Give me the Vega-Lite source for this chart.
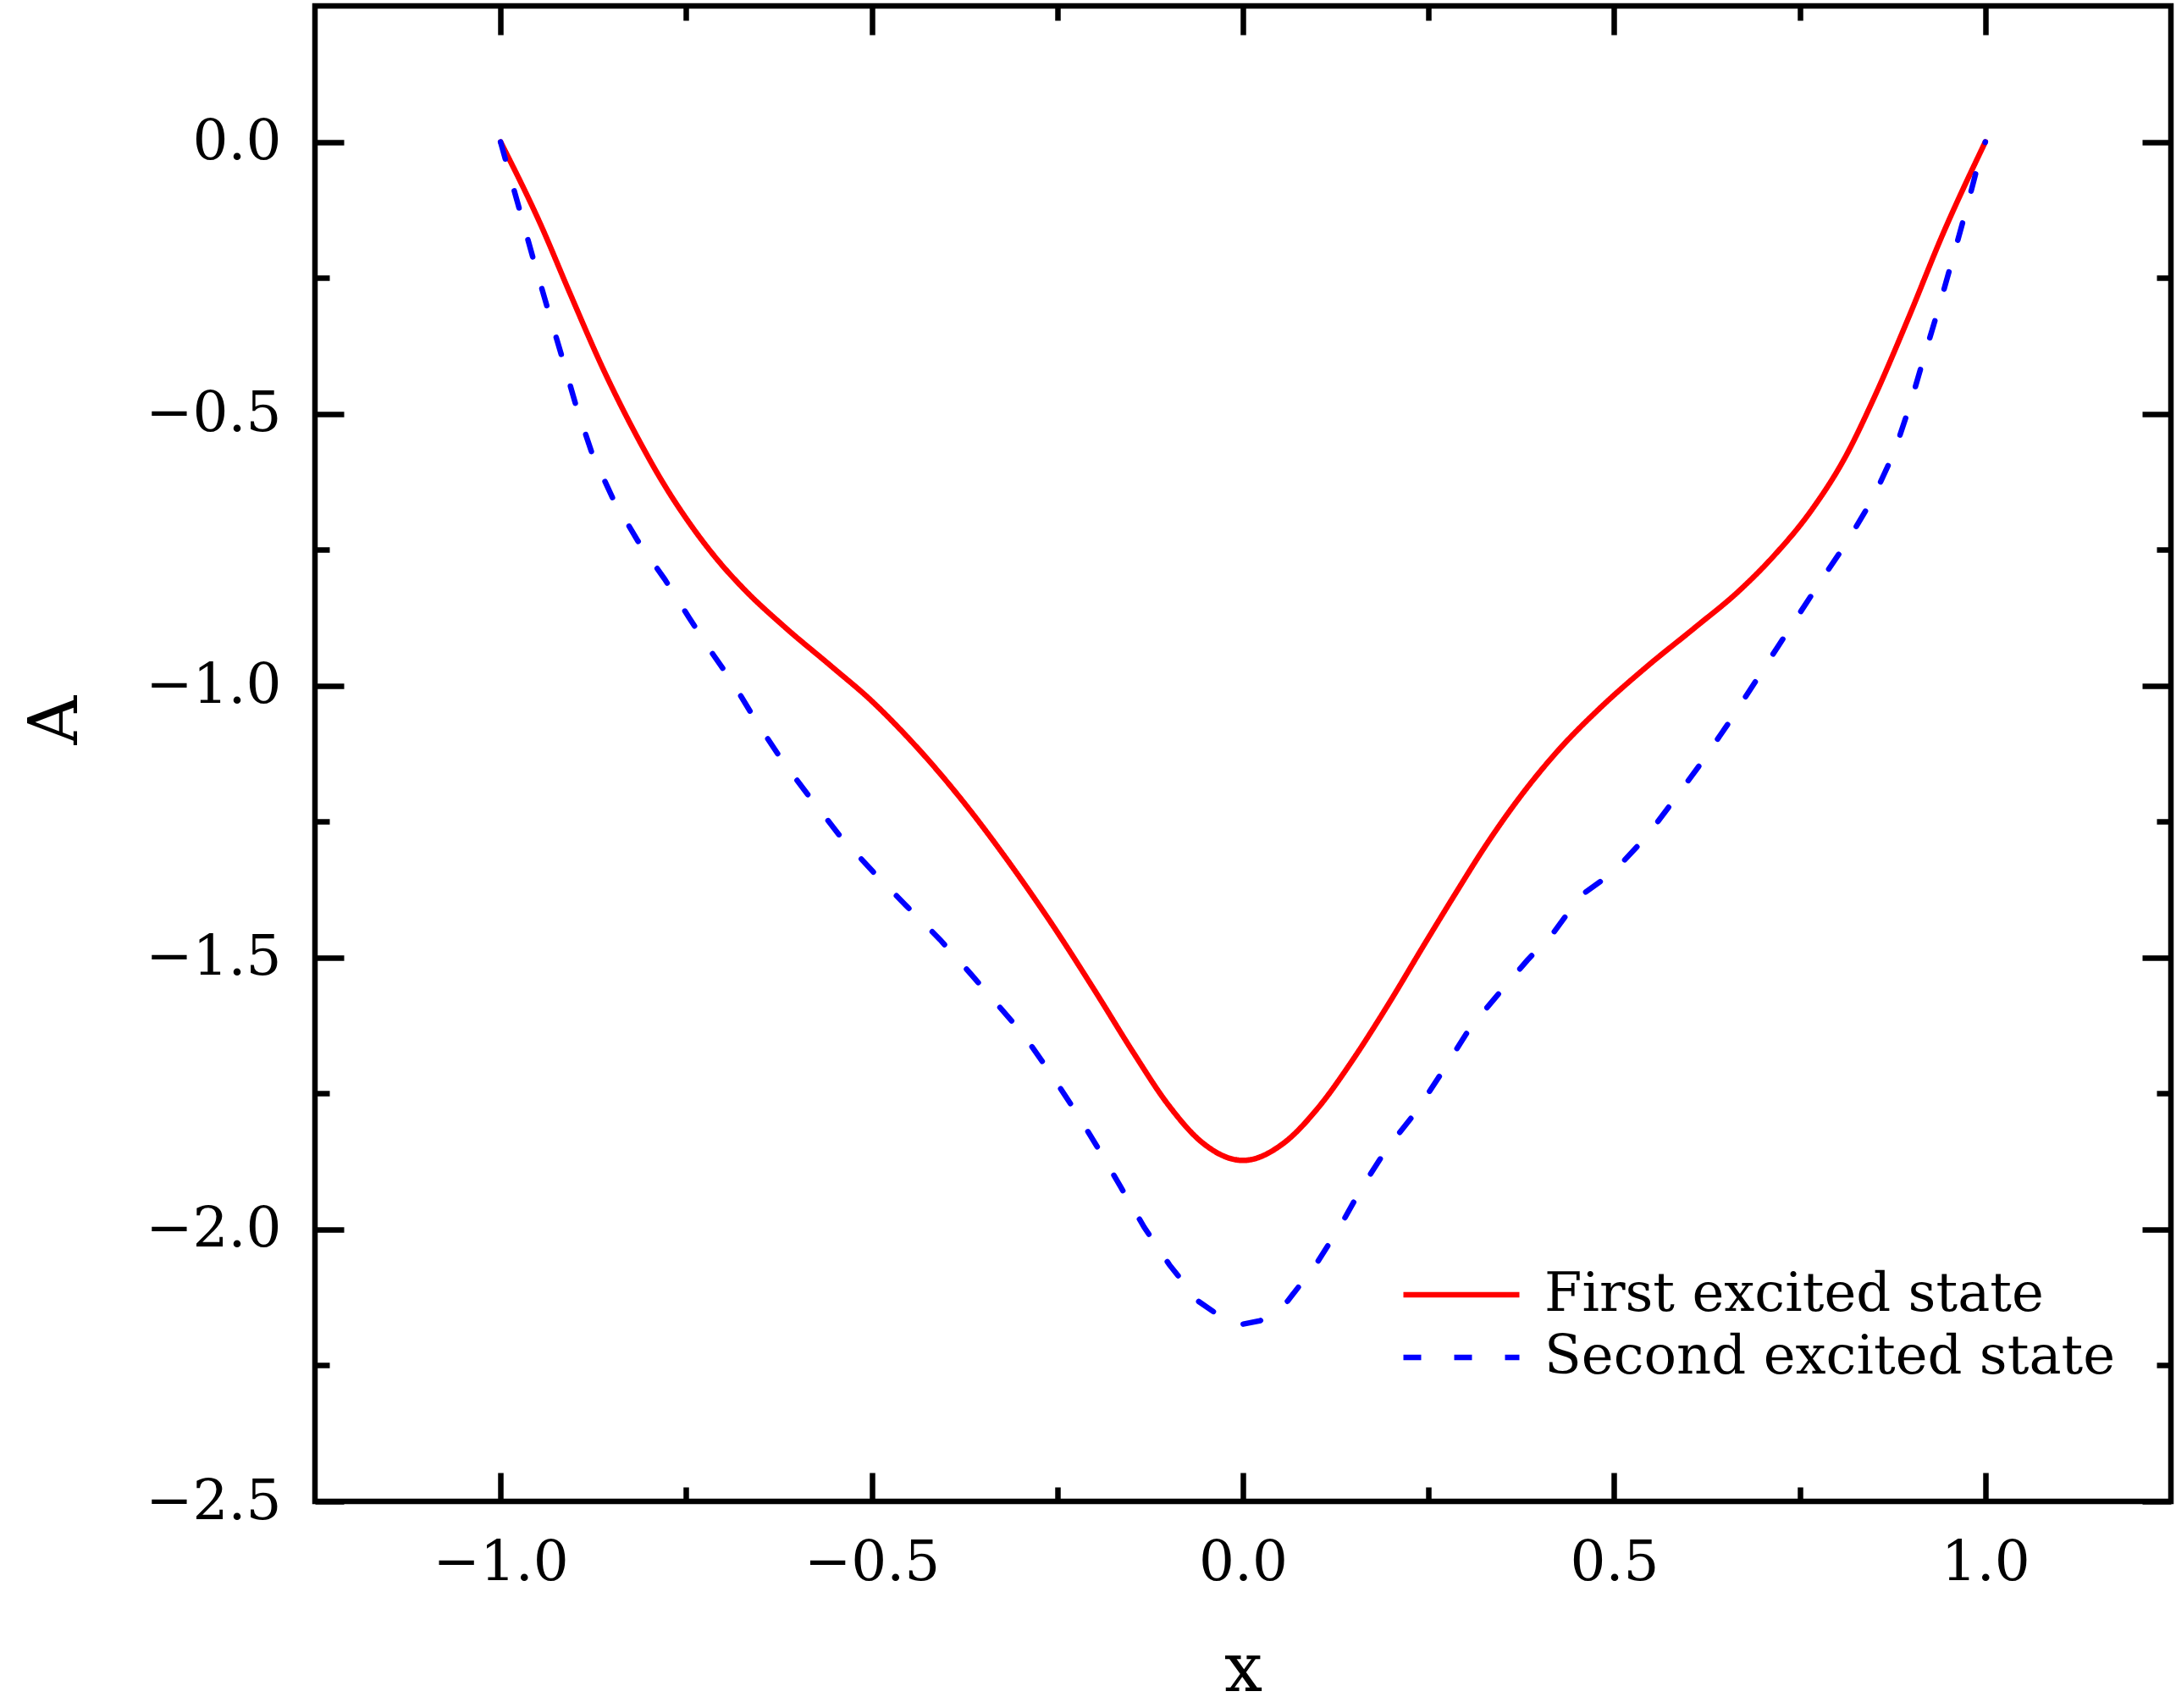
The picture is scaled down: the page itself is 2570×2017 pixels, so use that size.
{
  "$schema": "https://vega.github.io/schema/vega-lite/v6.json",
  "width": 2192,
  "height": 1766,
  "autosize": {"type": "none"},
  "padding": {"left": 372, "top": 7, "right": 6, "bottom": 244},
  "background": "white",
  "config": {
    "view": {"stroke": "black", "strokeWidth": 6.5},
    "axis": {
      "domain": false,
      "grid": false,
      "tickColor": "black",
      "tickWidth": 6.5,
      "labelFont": "DejaVu Serif",
      "labelFontSize": 66,
      "labelColor": "black",
      "labelFlush": false,
      "titleFont": "DejaVu Serif",
      "titleFontSize": 80,
      "titleFontWeight": "normal",
      "titleColor": "black"
    }
  },
  "data": {
    "values": [
      {"series": "First excited state", "x": -1.0, "A": 0.0},
      {"series": "First excited state", "x": -0.946, "A": -0.152},
      {"series": "First excited state", "x": -0.907, "A": -0.277},
      {"series": "First excited state", "x": -0.861, "A": -0.42},
      {"series": "First excited state", "x": -0.815, "A": -0.545},
      {"series": "First excited state", "x": -0.782, "A": -0.625},
      {"series": "First excited state", "x": -0.743, "A": -0.706},
      {"series": "First excited state", "x": -0.71, "A": -0.765},
      {"series": "First excited state", "x": -0.671, "A": -0.824},
      {"series": "First excited state", "x": -0.619, "A": -0.89},
      {"series": "First excited state", "x": -0.553, "A": -0.966},
      {"series": "First excited state", "x": -0.501, "A": -1.027},
      {"series": "First excited state", "x": -0.455, "A": -1.09},
      {"series": "First excited state", "x": -0.409, "A": -1.16},
      {"series": "First excited state", "x": -0.37, "A": -1.225},
      {"series": "First excited state", "x": -0.323, "A": -1.31},
      {"series": "First excited state", "x": -0.285, "A": -1.383},
      {"series": "First excited state", "x": -0.258, "A": -1.437},
      {"series": "First excited state", "x": -0.199, "A": -1.562},
      {"series": "First excited state", "x": -0.147, "A": -1.676},
      {"series": "First excited state", "x": -0.101, "A": -1.77},
      {"series": "First excited state", "x": -0.055, "A": -1.84},
      {"series": "First excited state", "x": 0.0, "A": -1.873},
      {"series": "First excited state", "x": 0.056, "A": -1.84},
      {"series": "First excited state", "x": 0.102, "A": -1.775},
      {"series": "First excited state", "x": 0.148, "A": -1.688},
      {"series": "First excited state", "x": 0.194, "A": -1.59},
      {"series": "First excited state", "x": 0.246, "A": -1.472},
      {"series": "First excited state", "x": 0.285, "A": -1.385},
      {"series": "First excited state", "x": 0.328, "A": -1.292},
      {"series": "First excited state", "x": 0.373, "A": -1.205},
      {"series": "First excited state", "x": 0.426, "A": -1.117},
      {"series": "First excited state", "x": 0.478, "A": -1.045},
      {"series": "First excited state", "x": 0.544, "A": -0.965},
      {"series": "First excited state", "x": 0.609, "A": -0.893},
      {"series": "First excited state", "x": 0.668, "A": -0.826},
      {"series": "First excited state", "x": 0.714, "A": -0.763},
      {"series": "First excited state", "x": 0.766, "A": -0.677},
      {"series": "First excited state", "x": 0.812, "A": -0.578},
      {"series": "First excited state", "x": 0.851, "A": -0.468},
      {"series": "First excited state", "x": 0.897, "A": -0.322},
      {"series": "First excited state", "x": 0.942, "A": -0.172},
      {"series": "First excited state", "x": 1.0, "A": 0.0},
      {"series": "Second excited state", "x": -1.0, "A": 0.0},
      {"series": "Second excited state", "x": -0.976, "A": -0.117},
      {"series": "Second excited state", "x": -0.957, "A": -0.21},
      {"series": "Second excited state", "x": -0.938, "A": -0.3},
      {"series": "Second excited state", "x": -0.918, "A": -0.392},
      {"series": "Second excited state", "x": -0.899, "A": -0.482},
      {"series": "Second excited state", "x": -0.877, "A": -0.572},
      {"series": "Second excited state", "x": -0.848, "A": -0.658},
      {"series": "Second excited state", "x": -0.815, "A": -0.734},
      {"series": "Second excited state", "x": -0.779, "A": -0.804},
      {"series": "Second excited state", "x": -0.746, "A": -0.875},
      {"series": "Second excited state", "x": -0.714, "A": -0.942},
      {"series": "Second excited state", "x": -0.687, "A": -0.995},
      {"series": "Second excited state", "x": -0.655, "A": -1.067},
      {"series": "Second excited state", "x": -0.62, "A": -1.139},
      {"series": "Second excited state", "x": -0.583, "A": -1.206},
      {"series": "Second excited state", "x": -0.543, "A": -1.276},
      {"series": "Second excited state", "x": -0.497, "A": -1.344},
      {"series": "Second excited state", "x": -0.454, "A": -1.404},
      {"series": "Second excited state", "x": -0.408, "A": -1.467},
      {"series": "Second excited state", "x": -0.366, "A": -1.531},
      {"series": "Second excited state", "x": -0.34, "A": -1.572},
      {"series": "Second excited state", "x": -0.297, "A": -1.639},
      {"series": "Second excited state", "x": -0.259, "A": -1.713},
      {"series": "Second excited state", "x": -0.225, "A": -1.784},
      {"series": "Second excited state", "x": -0.194, "A": -1.853},
      {"series": "Second excited state", "x": -0.165, "A": -1.921},
      {"series": "Second excited state", "x": -0.133, "A": -1.996},
      {"series": "Second excited state", "x": -0.099, "A": -2.065},
      {"series": "Second excited state", "x": -0.06, "A": -2.132},
      {"series": "Second excited state", "x": -0.022, "A": -2.168},
      {"series": "Second excited state", "x": 0.0, "A": -2.174},
      {"series": "Second excited state", "x": 0.023, "A": -2.168},
      {"series": "Second excited state", "x": 0.06, "A": -2.132},
      {"series": "Second excited state", "x": 0.099, "A": -2.063},
      {"series": "Second excited state", "x": 0.131, "A": -1.994},
      {"series": "Second excited state", "x": 0.161, "A": -1.921},
      {"series": "Second excited state", "x": 0.194, "A": -1.851},
      {"series": "Second excited state", "x": 0.233, "A": -1.784},
      {"series": "Second excited state", "x": 0.269, "A": -1.709},
      {"series": "Second excited state", "x": 0.305, "A": -1.631},
      {"series": "Second excited state", "x": 0.341, "A": -1.572},
      {"series": "Second excited state", "x": 0.383, "A": -1.505},
      {"series": "Second excited state", "x": 0.419, "A": -1.453},
      {"series": "Second excited state", "x": 0.455, "A": -1.386},
      {"series": "Second excited state", "x": 0.498, "A": -1.344},
      {"series": "Second excited state", "x": 0.544, "A": -1.277},
      {"series": "Second excited state", "x": 0.583, "A": -1.206},
      {"series": "Second excited state", "x": 0.619, "A": -1.139},
      {"series": "Second excited state", "x": 0.655, "A": -1.067},
      {"series": "Second excited state", "x": 0.691, "A": -0.991},
      {"series": "Second excited state", "x": 0.714, "A": -0.942},
      {"series": "Second excited state", "x": 0.746, "A": -0.875},
      {"series": "Second excited state", "x": 0.78, "A": -0.804},
      {"series": "Second excited state", "x": 0.815, "A": -0.733},
      {"series": "Second excited state", "x": 0.848, "A": -0.657},
      {"series": "Second excited state", "x": 0.877, "A": -0.572},
      {"series": "Second excited state", "x": 0.899, "A": -0.482},
      {"series": "Second excited state", "x": 0.918, "A": -0.393},
      {"series": "Second excited state", "x": 0.938, "A": -0.302},
      {"series": "Second excited state", "x": 0.957, "A": -0.21},
      {"series": "Second excited state", "x": 0.976, "A": -0.116},
      {"series": "Second excited state", "x": 0.992, "A": -0.032},
      {"series": "Second excited state", "x": 1.0, "A": 0.0}
    ]
  },
  "layer": [
    {
      "transform": [{"filter": "datum.series === 'First excited state'"}],
      "mark": {"type": "line", "strokeWidth": 6.5, "interpolate": "monotone", "strokeCap": "round"},
      "encoding": {
        "x": {
          "field": "x", "type": "quantitative",
          "scale": {"domain": [-1.25, 1.25], "nice": false, "zero": false},
          "axis": {"orient": "bottom", "values": [-1, -0.5, 0, 0.5, 1], "format": ".1f", "tickSize": -34, "labelPadding": 74, "title": "x", "titleBaseline": "alphabetic", "titleX": 1096, "titleY": 223}
        },
        "y": {
          "field": "A", "type": "quantitative",
          "scale": {"domain": [-2.5, 0.25], "nice": false, "zero": false},
          "axis": {"orient": "left", "values": [0, -0.5, -1, -1.5, -2, -2.5], "format": ".1f", "tickSize": -34, "labelPadding": 74, "title": "A", "titleBaseline": "alphabetic", "titleX": -282, "titleY": 843}
        },
        "color": {
          "field": "series", "type": "nominal",
          "scale": {"domain": ["First excited state", "Second excited state"], "range": ["#ff0000", "#0000ff"]},
          "legend": {"title": null, "orient": "none", "legendX": 1282, "legendY": 1485, "symbolType": "stroke", "symbolSize": 18769, "symbolStrokeWidth": 6.5, "clipHeight": 74, "rowPadding": 0, "padding": 0, "labelOffset": 26, "labelFont": "DejaVu Serif", "labelFontSize": 64, "labelColor": "black", "labelLimit": 1000}
        },
        "strokeDash": {
          "field": "series", "type": "nominal",
          "scale": {"domain": ["First excited state", "Second excited state"], "range": [[1, 0], [21, 39]]},
          "legend": {"title": null, "orient": "none", "legendX": 1282, "legendY": 1485, "symbolType": "stroke", "symbolSize": 18769, "symbolStrokeWidth": 6.5, "clipHeight": 74, "rowPadding": 0, "padding": 0, "labelOffset": 26, "labelFont": "DejaVu Serif", "labelFontSize": 64, "labelColor": "black", "labelLimit": 1000}
        }
      }
    },
    {
      "transform": [{"filter": "datum.series === 'Second excited state'"}],
      "mark": {"type": "line", "strokeWidth": 6.5, "strokeCap": "round"},
      "encoding": {
        "x": {
          "field": "x", "type": "quantitative",
          "scale": {"domain": [-1.25, 1.25], "nice": false, "zero": false},
          "axis": {"orient": "top", "values": [-1, -0.5, 0, 0.5, 1], "tickSize": -34, "labels": false, "title": null}
        },
        "y": {
          "field": "A", "type": "quantitative",
          "scale": {"domain": [-2.5, 0.25], "nice": false, "zero": false},
          "axis": {"orient": "right", "values": [0, -0.5, -1, -1.5, -2, -2.5], "tickSize": -34, "labels": false, "title": null}
        },
        "color": {"field": "series", "type": "nominal"},
        "strokeDash": {"field": "series", "type": "nominal"}
      }
    },
    {
      "transform": [{"filter": "datum.series === 'First excited state'"}],
      "mark": {"type": "line", "opacity": 0},
      "encoding": {
        "x": {
          "field": "x", "type": "quantitative",
          "scale": {"domain": [-1.25, 1.25], "nice": false, "zero": false},
          "axis": {"orient": "bottom", "values": [-0.75, -0.25, 0.25, 0.75], "tickSize": -17, "labels": false, "title": null}
        },
        "y": {
          "field": "A", "type": "quantitative",
          "scale": {"domain": [-2.5, 0.25], "nice": false, "zero": false},
          "axis": {"orient": "left", "values": [-0.25, -0.75, -1.25, -1.75, -2.25], "tickSize": -17, "labels": false, "title": null}
        }
      }
    },
    {
      "transform": [{"filter": "datum.series === 'First excited state'"}],
      "mark": {"type": "line", "opacity": 0},
      "encoding": {
        "x": {
          "field": "x", "type": "quantitative",
          "scale": {"domain": [-1.25, 1.25], "nice": false, "zero": false},
          "axis": {"orient": "top", "values": [-0.75, -0.25, 0.25, 0.75], "tickSize": -17, "labels": false, "title": null}
        },
        "y": {
          "field": "A", "type": "quantitative",
          "scale": {"domain": [-2.5, 0.25], "nice": false, "zero": false},
          "axis": {"orient": "right", "values": [-0.25, -0.75, -1.25, -1.75, -2.25], "tickSize": -17, "labels": false, "title": null}
        }
      }
    }
  ],
  "resolve": {"axis": {"x": "independent", "y": "independent"}}
}
